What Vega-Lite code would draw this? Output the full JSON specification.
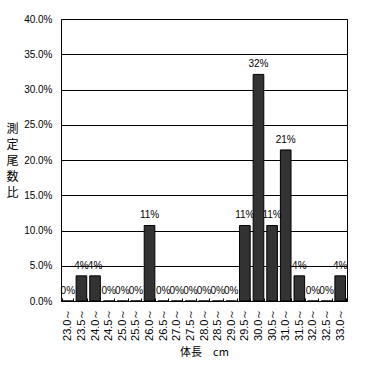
{
  "$schema": "https://vega.github.io/schema/vega-lite/v6.json",
  "width": 286,
  "height": 282,
  "autosize": "none",
  "padding": {"left": 61, "top": 19, "right": 18, "bottom": 68},
  "background": "white",
  "config": {
    "font": "Liberation Sans",
    "view": {"stroke": "black", "strokeWidth": 1},
    "axis": {"labelColor": "black", "titleColor": "black", "domainColor": "black", "tickColor": "black", "labelFont": "Liberation Sans", "titleFont": "Noto Sans CJK JP", "titleFontWeight": "normal"}
  },
  "data": {
    "values": [
      {"len": "23.0～", "ratio": 0.0},
      {"len": "23.5～", "ratio": 0.0357},
      {"len": "24.0～", "ratio": 0.0357},
      {"len": "24.5～", "ratio": 0.0},
      {"len": "25.0～", "ratio": 0.0},
      {"len": "25.5～", "ratio": 0.0},
      {"len": "26.0～", "ratio": 0.1071},
      {"len": "26.5～", "ratio": 0.0},
      {"len": "27.0～", "ratio": 0.0},
      {"len": "27.5～", "ratio": 0.0},
      {"len": "28.0～", "ratio": 0.0},
      {"len": "28.5～", "ratio": 0.0},
      {"len": "29.0～", "ratio": 0.0},
      {"len": "29.5～", "ratio": 0.1071},
      {"len": "30.0～", "ratio": 0.3214},
      {"len": "30.5～", "ratio": 0.1071},
      {"len": "31.0～", "ratio": 0.2143},
      {"len": "31.5～", "ratio": 0.0357},
      {"len": "32.0～", "ratio": 0.0},
      {"len": "32.5～", "ratio": 0.0},
      {"len": "33.0～", "ratio": 0.0357}
    ]
  },
  "encoding": {
    "x": {
      "field": "len", "type": "nominal", "sort": null,
      "scale": {"paddingInner": 0.22, "paddingOuter": 0.11},
      "axis": {
        "title": "体長　cm", "titleFontSize": 11, "titlePadding": 6,
        "labelAngle": -90, "labelFontSize": 11, "labelPadding": 10,
        "tickBand": "extent", "tickSize": -3, "domain": true
      }
    },
    "y": {
      "field": "ratio", "type": "quantitative",
      "scale": {"domain": [0, 0.4]},
      "axis": {
        "format": ".1%", "values": [0, 0.05, 0.1, 0.15, 0.2, 0.25, 0.3, 0.35, 0.4],
        "labelOverlap": false,
        "grid": true, "gridColor": "black", "gridOpacity": 1,
        "ticks": false, "labelPadding": 9, "labelFontSize": 10,
        "title": ["測", "定", "尾", "数", "比"], "titleAngle": 0, "titleFontSize": 12,
        "titleX": -49, "titleY": 109, "titleBaseline": "middle", "titleAlign": "center", "titleLineHeight": 16
      }
    }
  },
  "layer": [
    {"mark": {"type": "bar", "color": "#333333", "stroke": "black", "strokeWidth": 1}},
    {
      "mark": {"type": "text", "baseline": "bottom", "dy": -5, "fontSize": 10, "color": "black", "font": "Liberation Sans"},
      "encoding": {"text": {"field": "ratio", "type": "quantitative", "format": ".0%"}}
    }
  ]
}
